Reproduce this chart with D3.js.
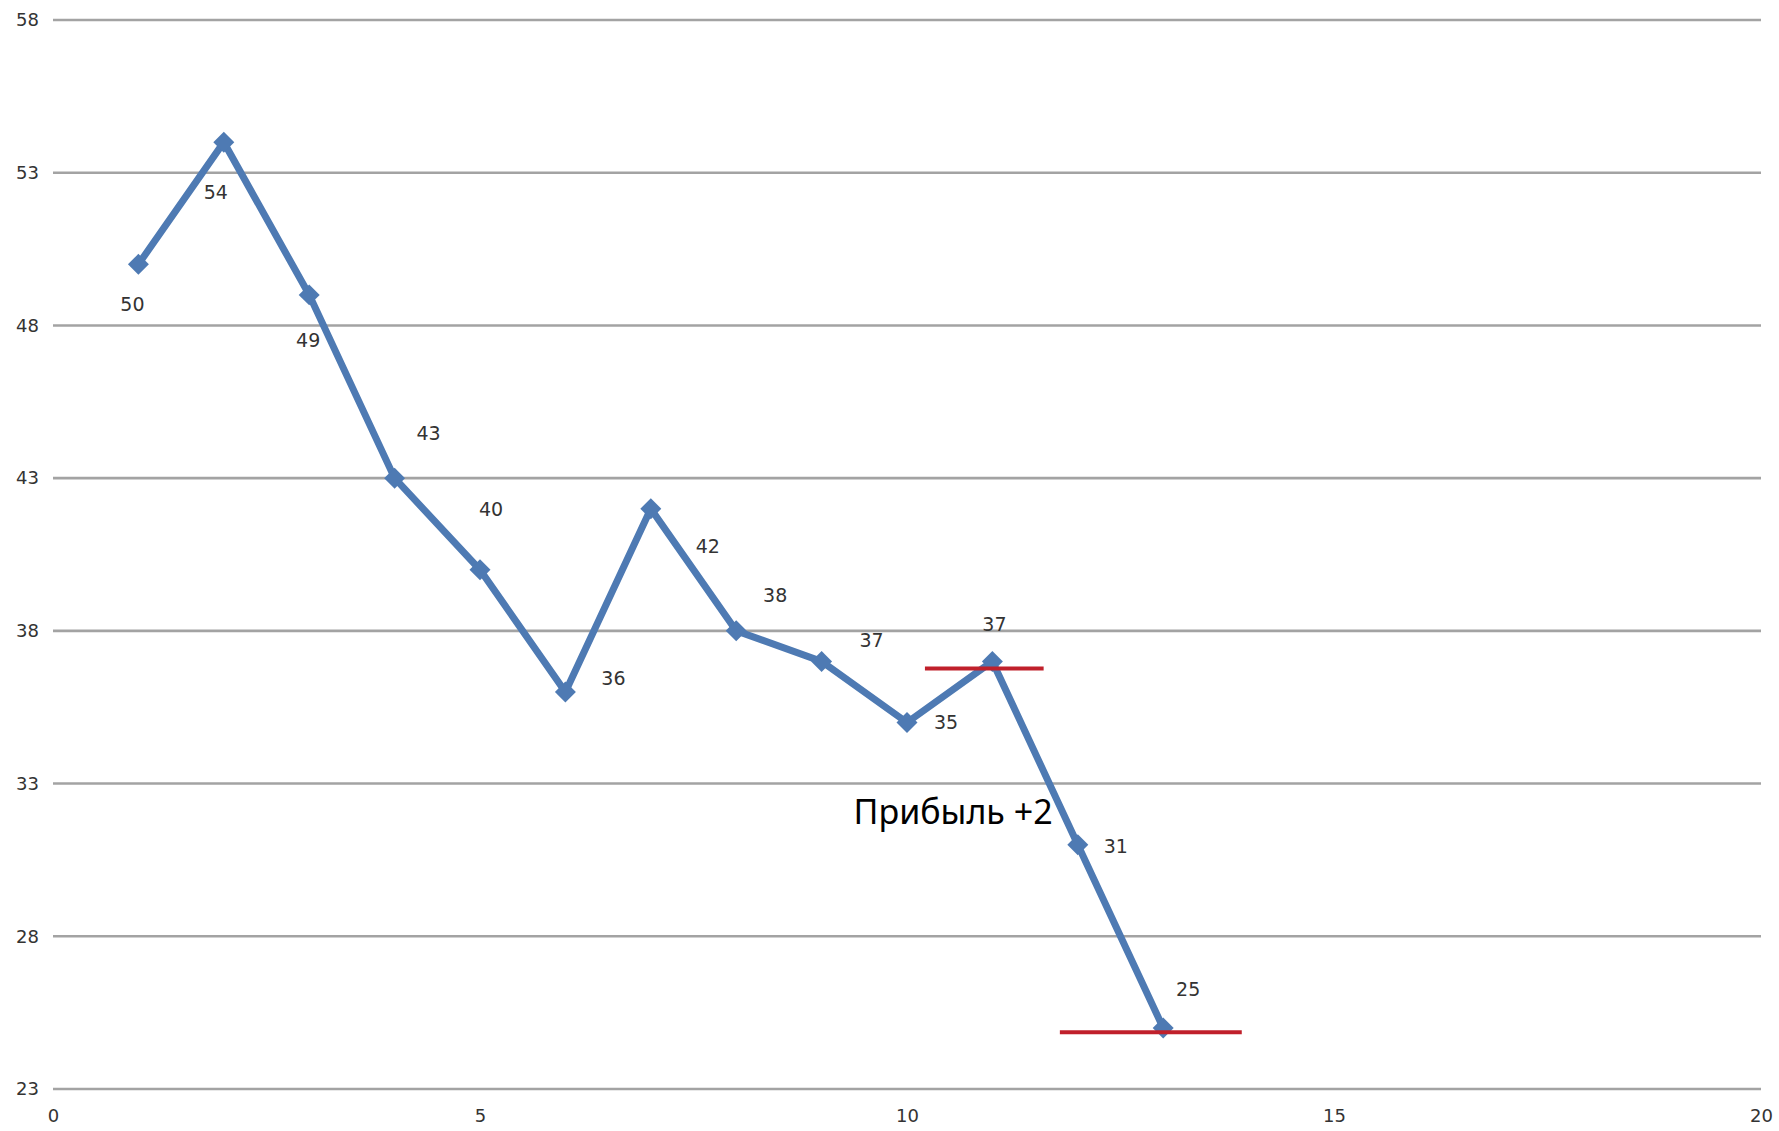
<!DOCTYPE html>
<html>
<head>
<meta charset="utf-8">
<script src="https://cdn.jsdelivr.net/npm/d3@7"></script>
<style>
html,body{margin:0;padding:0;background:#fff;}
svg{display:block;}
</style>
</head>
<body>
<svg id="chart" width="1779" height="1131"></svg>
<script>
// ---- data ----
const xValues = [1,2,3,4,5,6,7,8,9,10,11,12,13];
const yValues = [50,54,49,43,40,36,42,38,37,35,37,31,25];
const pointLabels = ["50","54","49","43","40","36","42","38","37","35","37","31","25"];
// label offsets from their point, in pixels
const labelDx = [-6,-8,-1,34,11,48,57,39,50,39,2,38,25];
const labelDy = [40,50,45,-45,-61,-14,37,-36,-21,0,-37,1,-39];
const yTicks = [23,28,33,38,43,48,53,58];
const xTicks = [0,5,10,15,20];
// red level lines
const levelX1 = [10.21, 11.79];
const levelX2 = [11.60, 13.92];
const levelY  = [36.77, 24.86];
const annotationText = "Прибыль +2";
const annotationX = 10.54;
const annotationY = 32.1;

// ---- layout ----
const svg = d3.select("#chart");
const plotLeft = 53, plotRight = 1761, plotTop = 20, plotBottom = 1089;
const x = d3.scaleLinear().domain([0,20]).range([plotLeft,plotRight]);
const y = d3.scaleLinear().domain([23,58]).range([plotBottom,plotTop]);

// gridlines
svg.append("g").selectAll("line").data(yTicks).join("line")
  .attr("x1", plotLeft).attr("x2", plotRight)
  .attr("y1", d=>y(d)).attr("y2", d=>y(d))
  .attr("stroke", "#a3a3a3").attr("stroke-width", 2.6);

// y axis labels
const yAxis = d3.axisLeft(y).tickValues(yTicks).tickSize(0).tickPadding(14);
const gy = svg.append("g").attr("transform", `translate(${plotLeft},0)`).call(yAxis);
gy.select(".domain").remove();
gy.selectAll("text").attr("font-family","DejaVu Sans").attr("font-size",18).attr("fill","#333");

// x axis labels
const xAxis = d3.axisBottom(x).tickValues(xTicks).tickSize(0).tickPadding(20);
const gx = svg.append("g").attr("transform", `translate(0,${plotBottom})`).call(xAxis);
gx.select(".domain").remove();
gx.selectAll("text").attr("font-family","DejaVu Sans").attr("font-size",18).attr("fill","#333");

// series line
const pts = xValues.map((d,i)=>({x:d, y:yValues[i], label:pointLabels[i], dx:labelDx[i], dy:labelDy[i]}));
const line = d3.line().x(d=>x(d.x)).y(d=>y(d.y));
svg.append("path").datum(pts)
  .attr("d", line)
  .attr("fill","none")
  .attr("stroke","#4e7ab3")
  .attr("stroke-width",7)
  .attr("stroke-linejoin","miter");

// markers (diamonds)
svg.append("g").selectAll("path").data(pts).join("path")
  .attr("d", d3.symbol().type(d3.symbolSquare).size(220))
  .attr("transform", d=>`translate(${x(d.x)},${y(d.y)}) rotate(45)`)
  .attr("fill","#4e7ab3");

// red level lines
svg.append("g").selectAll("line").data(levelY).join("line")
  .attr("x1",(d,i)=>x(levelX1[i])).attr("x2",(d,i)=>x(levelX2[i]))
  .attr("y1",d=>y(d)).attr("y2",d=>y(d))
  .attr("stroke","#c0202b").attr("stroke-width",4);

// data labels
svg.append("g").selectAll("text").data(pts).join("text")
  .attr("x", d=>x(d.x)+d.dx).attr("y", d=>y(d.y)+d.dy)
  .attr("text-anchor","middle").attr("dominant-baseline","central")
  .attr("font-family","DejaVu Sans").attr("font-size",19).attr("fill","#333")
  .text(d=>d.label);

// annotation
svg.append("text")
  .attr("x", x(annotationX)).attr("y", y(annotationY))
  .attr("text-anchor","middle").attr("dominant-baseline","central")
  .attr("font-family","Noto Sans").attr("font-size",34).attr("fill","#000")
  .text(annotationText);
</script>
</body>
</html>
